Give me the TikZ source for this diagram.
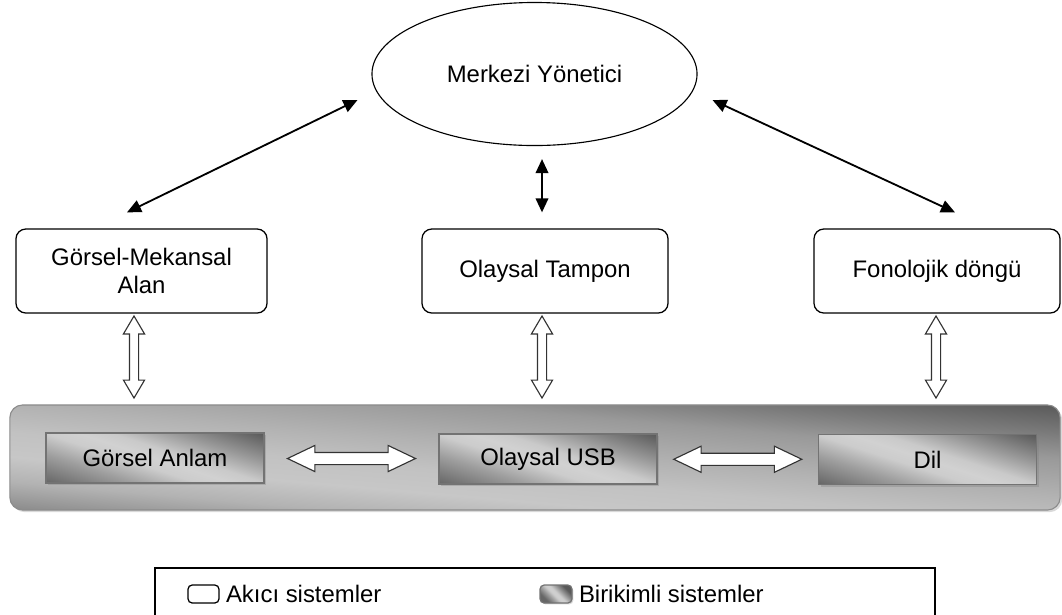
\documentclass[tikz,border=0pt]{standalone}
\usepackage{fontspec}
\setmainfont{Liberation Sans}
\usetikzlibrary{positioning,calc}
\usetikzlibrary{shapes.geometric,shapes.arrows,shadows}
\usetikzlibrary{arrows.meta}
\pgfdeclareverticalshading{bandshade}{100bp}{color(0bp)=(black!46); color(26bp)=(black!46); color(33bp)=(black!30); color(39bp)=(black!22); color(45bp)=(black!24); color(51.5bp)=(black!30); color(61bp)=(black!40); color(67bp)=(black!52); color(74bp)=(black!65); color(100bp)=(black!65)}
\pgfdeclareverticalshading{boxshade}{100bp}{color(0bp)=(black!60); color(28bp)=(black!60); color(38.5bp)=(black!38); color(46bp)=(black!20); color(50bp)=(black!18); color(54bp)=(black!21); color(61.5bp)=(black!40); color(72bp)=(black!65); color(100bp)=(black!65)}
\tikzset{every node/.style={font=\fontsize{17}{20}\selectfont}}
\tikzset{fluid/.style={draw,line width=0.9pt,rounded corners=7pt,fill=white,align=center,minimum height=2.1cm}}
\tikzset{glossy/.style n args={3}{path picture={\shade[shading=#1,transform canvas={rotate around={#2:(path picture bounding box.center)}}]
    ($(path picture bounding box.south west)+(-#3,#3)$) rectangle ($(path picture bounding box.north east)+(#3,-#3)$);}}}
\tikzset{stored/.style={draw=black!55,line width=0.9pt,glossy={boxshade}{-18}{40},drop shadow={opacity=.35,shadow xshift=1.5pt,shadow yshift=-1.5pt},minimum width=5.45cm,minimum height=1.25cm}}
\tikzset{link/.style={{Triangle[width=9pt,length=10pt]}-{Triangle[width=9pt,length=10pt]},line width=1.3pt}}
\tikzset{hollow/.style={double arrow,draw=black!80,fill=white,line width=0.8pt,inner xsep=0pt}}
\tikzset{updown/.style={hollow,rotate=90,minimum height=2.05cm,inner ysep=0.1cm,double arrow head extend=0.15cm,double arrow tip angle=61}}
\tikzset{across/.style={hollow,minimum height=3.2cm,inner ysep=0.1375cm,double arrow head extend=0.175cm,double arrow tip angle=51}}

\begin{document}
\begin{tikzpicture}[x=0.025cm,y=-0.025cm]
  \useasboundingbox (0,0) rectangle (1062,614);
  % top level
  \node[ellipse,draw,line width=0.8pt,minimum width=8.125cm,minimum height=3.575cm] (exec) at (534.5,74) {Merkezi Yönetici};
  \node[fluid,minimum width=6.275cm] (gsm) at (141.5,271) {Görsel-Mekansal\\Alan};
  \node[fluid,minimum width=6.15cm] (tampon) at (545,271) {Olaysal Tampon};
  \node[fluid,minimum width=6.15cm] (fon) at (937,271) {Fonolojik döngü};
  \draw[link] ($(gsm.north)+(-14.5,-16)$) -- ($(exec.center)+(-177,26)$);
  \draw[link] ($(tampon.north)+(-3,-16)$) -- ($(exec.south)+(7.5,13)$);
  \draw[link] ($(fon.north)+(18,-16)$) -- ($(exec.center)+(178,26)$);
  % long term band
  \node[draw=black!45,line width=0.8pt,rounded corners=9pt,glossy={bandshade}{-5}{50},
        drop shadow={opacity=.3,shadow xshift=1.5pt,shadow yshift=-1.5pt},minimum width=26.25cm,minimum height=2.625cm] (band) at (535,457.5) {};
  \node[stored] (anlam) at (155,458) {Görsel Anlam};
  \node[stored] (usb) at (548,459) {Olaysal USB};
  \node[stored] (dil) at (927.5,459.5) {Dil};
  \foreach \up/\x in {gsm/134,tampon/542,fon/936}
    \node[updown] (v-\up) at (\x,357) {};
  \node[across] (h-left) at ($(anlam.east)!0.5!(usb.west)$) {};
  \node[across] (h-right) at ($(usb.east)!0.5!(dil.west)$) {};
  % legend
  \node[draw,line width=0.9pt,minimum width=19.5cm,minimum height=1.8cm] (legend) at (545,604) {};
  \node[draw,line width=0.9pt,rounded corners=3pt,fill=white,minimum width=0.775cm,minimum height=0.45cm] (keyfluid) at (203.5,594) {};
  \node[right=1pt of keyfluid] (txtfluid) {Akıcı sistemler};
  \node[draw=black!55,line width=0.9pt,rounded corners=3pt,shading=boxshade,shading angle=-45,
        drop shadow={opacity=.3,shadow xshift=1pt,shadow yshift=-1pt},minimum width=0.8cm,minimum height=0.45cm] (keystored) at (556,594) {};
  \node[right=1pt of keystored] (txtstored) {Birikimli sistemler};
\end{tikzpicture}
\end{document}
